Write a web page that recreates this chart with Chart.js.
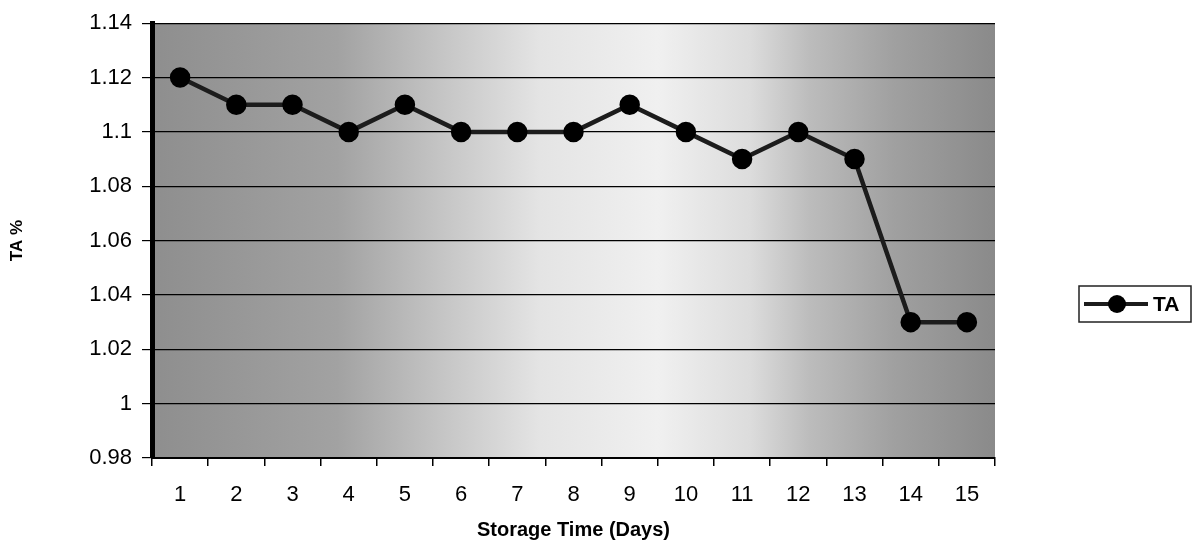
<!DOCTYPE html>
<html>
<head>
<meta charset="utf-8">
<script src="https://cdn.jsdelivr.net/npm/chart.js@4/dist/chart.umd.min.js"></script>
<style>
  html, body { margin: 0; padding: 0; background: #fff; }
  #wrap { width: 1192px; height: 547px; position: relative; }
</style>
</head>
<body>
<div id="wrap"><canvas id="taChart"></canvas></div>
<script>
// storage days and titratable acidity readings
const days = ['1', '2', '3', '4', '5', '6', '7', '8', '9', '10', '11', '12', '13', '14', '15'];
const taValues = [1.12, 1.11, 1.11, 1.10, 1.11, 1.10, 1.10, 1.10, 1.11, 1.10, 1.09, 1.10, 1.09, 1.03, 1.03];
const yTicks = [0.98, 1, 1.02, 1.04, 1.06, 1.08, 1.1, 1.12, 1.14];

const FONT = '"Liberation Sans", Arial, sans-serif';

// shaded plot area: dark at the edges, pale in the middle
const plotBackground = {
  id: 'plotBackground',
  beforeDraw(chart) {
    const { ctx, chartArea: a } = chart;
    const g = ctx.createLinearGradient(a.left, 0, a.right, 0);
    g.addColorStop(0.00, '#8e8e8e');
    g.addColorStop(0.22, '#a2a2a2');
    g.addColorStop(0.34, '#c4c4c4');
    g.addColorStop(0.46, '#e4e4e4');
    g.addColorStop(0.60, '#f0f0f0');
    g.addColorStop(0.71, '#dcdcdc');
    g.addColorStop(0.78, '#bcbcbc');
    g.addColorStop(0.88, '#a0a0a0');
    g.addColorStop(1.00, '#8a8a8a');
    ctx.save();
    ctx.fillStyle = g;
    ctx.fillRect(a.left, a.top, a.right - a.left, a.bottom - a.top);
    ctx.restore();
  }
};

// boxed legend with line-through-marker sample
const boxLegend = {
  id: 'boxLegend',
  afterDraw(chart) {
    const { ctx } = chart;
    const ds = chart.data.datasets[0];
    const x = 1079, y = 286, w = 112, h = 36;
    ctx.save();
    ctx.fillStyle = '#fff';
    ctx.fillRect(x, y, w, h);
    ctx.strokeStyle = '#222';
    ctx.lineWidth = 1.5;
    ctx.strokeRect(x, y, w, h);
    const cy = y + h / 2;
    ctx.strokeStyle = ds.borderColor;
    ctx.lineWidth = 4;
    ctx.beginPath();
    ctx.moveTo(x + 5, cy);
    ctx.lineTo(x + 69, cy);
    ctx.stroke();
    ctx.fillStyle = ds.pointBackgroundColor;
    ctx.beginPath();
    ctx.arc(x + 38, cy, 9, 0, Math.PI * 2);
    ctx.fill();
    ctx.fillStyle = '#000';
    ctx.font = 'bold 21px ' + FONT;
    ctx.textBaseline = 'middle';
    ctx.fillText(ds.label, x + 74, cy + 1);
    ctx.restore();
  }
};

const ctx = document.getElementById('taChart').getContext('2d');
new Chart(ctx, {
  type: 'line',
  data: {
    labels: days,
    datasets: [{
      label: 'TA',
      data: taValues,
      borderColor: '#1c1c1c',
      borderWidth: 4.5,
      pointBackgroundColor: '#000',
      pointBorderColor: '#000',
      pointRadius: 8,
      pointHoverRadius: 8,
      tension: 0
    }]
  },
  options: {
    responsive: true,
    maintainAspectRatio: false,
    animation: false,
    layout: { padding: { top: 22, right: 197, left: 0, bottom: 0 } },
    plugins: {
      legend: { display: false },
      tooltip: { enabled: false }
    },
    scales: {
      x: {
        offset: true,
        grid: { offset: true, drawOnChartArea: false, drawTicks: true, tickLength: 8, color: '#000', lineWidth: 1.5 },
        border: { color: '#000', width: 2 },
        ticks: {
          color: '#000',
          padding: 16,
          maxRotation: 0,
          font: { family: FONT, size: 22 }
        },
        title: {
          display: true,
          text: 'Storage Time (Days)',
          color: '#000',
          padding: { top: 0, bottom: 5 },
          font: { family: FONT, size: 20, weight: 'bold' }
        },
        afterFit(scale) { scale.height = 89; }
      },
      y: {
        min: 0.98,
        max: 1.14,
        afterBuildTicks(scale) { scale.ticks = yTicks.map(v => ({ value: v })); },
        grid: { color: '#000', lineWidth: 1.2, tickLength: 10 },
        border: { color: '#000', width: 5 },
        ticks: {
          color: '#000',
          padding: 10,
          font: { family: FONT, size: 22 },
          callback: v => String(parseFloat(v.toFixed(2)))
        },
        title: {
          display: true,
          text: 'TA %',
          color: '#000',
          padding: { top: 7, bottom: 0 },
          font: { family: FONT, size: 17, weight: 'bold' }
        },
        afterFit(scale) { scale.width = 152; }
      }
    }
  },
  plugins: [plotBackground, boxLegend]
});
</script>
</body>
</html>
